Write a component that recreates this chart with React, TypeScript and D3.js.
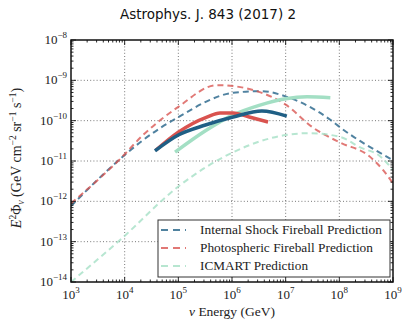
import React from "react";
import * as d3 from "d3";

// ---- data (energy in GeV, E^2 Phi in GeV cm^-2 sr^-1 s^-1) ----
const isDashedE = [1e3, 8.2e3, 2.2e4, 1e5, 1.05e6, 3.6e6, 1.05e7, 6.8e7, 1.07e8, 1e9];
const isDashedF = [7.6e-13, 1.12e-11, 3.3e-11, 1.23e-10, 4.9e-10, 5.4e-10, 3.9e-10, 1.05e-10, 6.6e-11, 1.05e-11];

const phDashedE = [1e3, 8.2e3, 2.2e4, 1e5, 5.2e5, 1.05e6, 3.3e6, 1e7, 3.2e7, 1.07e8, 3.4e8, 6.5e8, 1e9];
const phDashedF = [8.9e-13, 1.12e-11, 4.4e-11, 2.2e-10, 7.6e-10, 7.2e-10, 5.1e-10, 2.5e-10, 6.8e-11, 2.8e-11, 1.4e-11, 6e-12, 2.8e-12];

const icDashedE = [1e3, 8.2e3, 1.07e5, 1e6, 1e7, 2.8e7, 1.07e8, 2.4e8, 5.8e8, 1e9];
const icDashedF = [1e-14, 1.1e-13, 2.5e-12, 1.6e-11, 4.4e-11, 4.9e-11, 3.9e-11, 2.2e-11, 1.3e-11, 6e-12];

const isSolidE = [3.67e4, 1e5, 3.2e5, 1.05e6, 3.6e6, 1.05e7];
const isSolidF = [1.78e-11, 4.4e-11, 7.8e-11, 1.23e-10, 1.74e-10, 1.3e-10];

const phSolidE = [3.8e4, 1e5, 3.4e5, 6e5, 1.05e6, 2.1e6, 4.7e6];
const phSolidF = [1.85e-11, 5.2e-11, 1.23e-10, 1.55e-10, 1.55e-10, 1.23e-10, 9.3e-11];

const icSolidE = [8.7e4, 3.2e5, 1e6, 3.2e6, 1e7, 2.5e7, 6.8e7];
const icSolidF = [1.66e-11, 5.6e-11, 1.35e-10, 2.4e-10, 3.5e-10, 3.9e-10, 3.7e-10];

const xTickExps = [3, 4, 5, 6, 7, 8, 9];
const yTickExps = [-8, -9, -10, -11, -12, -13, -14];
const legendLabels = [
  "Internal Shock Fireball Prediction",
  "Photospheric Fireball Prediction",
  "ICMART Prediction",
];
const seriesColors = ["#1f5f85", "#d9534f", "#a3dfc4"];
const titleText = "Astrophys. J. 843 (2017) 2";

export default function App() {
  const W = 405, H = 320;
  const L = 71, R = 393, T = 40, B = 282;
  const x = d3.scaleLog().domain([1e3, 1e9]).range([L, R]);
  const y = d3.scaleLog().domain([1e-14, 1e-8]).range([B, T]);

  const line = d3
    .line<[number, number]>()
    .x((d) => x(d[0]))
    .y((d) => y(d[1]))
    .curve(d3.curveMonotoneX);
  const mk = (E: number[], F: number[]) => line(E.map((e, i) => [e, F[i]] as [number, number])) || "";

  const dashed = [
    { d: mk(isDashedE, isDashedF), c: seriesColors[0] },
    { d: mk(phDashedE, phDashedF), c: seriesColors[1] },
    { d: mk(icDashedE, icDashedF), c: seriesColors[2] },
  ];
  const solid = [
    { d: mk(icSolidE, icSolidF), c: seriesColors[2] },
    { d: mk(phSolidE, phSolidF), c: seriesColors[1] },
    { d: mk(isSolidE, isSolidF), c: seriesColors[0] },
  ];

  const serif = "'Liberation Serif', 'DejaVu Serif', serif";

  const xMinor: number[] = [];
  for (let e = 3; e < 9; e++) for (let m = 2; m <= 9; m++) xMinor.push(m * Math.pow(10, e));
  const yMinor: number[] = [];
  for (let e = -14; e < -8; e++) for (let m = 2; m <= 9; m++) yMinor.push(m * Math.pow(10, e));

  const majLen = 5, minLen = 2.5;
  const legendWidths = [182, 173, 108];

  return (
    <svg width={W} height={H} style={{ position: "absolute", left: 0, top: 0 }} xmlns="http://www.w3.org/2000/svg">
      <rect x={0} y={0} width={W} height={H} fill="white" />
      <defs>
        <clipPath id="plotclip">
          <rect x={L} y={T} width={R - L} height={B - T} />
        </clipPath>
      </defs>
      <text x={208} y={19} textAnchor="middle" fontFamily="'DejaVu Sans', sans-serif" fontSize={13.5} fill="#111">
        {titleText}
      </text>

      {/* grid */}
      <g stroke="#555" strokeWidth={0.8} strokeDasharray="1,2.2">
        {xTickExps.slice(1, -1).map((e) => (
          <line key={"gx" + e} x1={x(Math.pow(10, e))} x2={x(Math.pow(10, e))} y1={T} y2={B} />
        ))}
        {yTickExps.slice(1, -1).map((e) => (
          <line key={"gy" + e} y1={y(Math.pow(10, e))} y2={y(Math.pow(10, e))} x1={L} x2={R} />
        ))}
      </g>

      {/* curves */}
      <g clipPath="url(#plotclip)" fill="none">
        {dashed.map((s, i) => (
          <path key={"d" + i} d={s.d} stroke={s.c} strokeWidth={2} strokeDasharray="6,4" opacity={0.78} />
        ))}
        {solid.map((s, i) => (
          <path key={"s" + i} d={s.d} stroke={s.c} strokeWidth={3.5} strokeLinecap="butt" />
        ))}
      </g>

      {/* ticks */}
      <g stroke="#111" strokeWidth={0.9}>
        {xTickExps.map((e) => {
          const px = x(Math.pow(10, e));
          return (
            <g key={"xt" + e}>
              <line x1={px} x2={px} y1={B} y2={B - majLen} />
              <line x1={px} x2={px} y1={T} y2={T + majLen} />
            </g>
          );
        })}
        {xMinor.map((v, i) => {
          const px = x(v);
          return (
            <g key={"xm" + i}>
              <line x1={px} x2={px} y1={B} y2={B - minLen} />
              <line x1={px} x2={px} y1={T} y2={T + minLen} />
            </g>
          );
        })}
        {yTickExps.map((e) => {
          const py = y(Math.pow(10, e));
          return (
            <g key={"yt" + e}>
              <line y1={py} y2={py} x1={L} x2={L + majLen} />
              <line y1={py} y2={py} x1={R} x2={R - majLen} />
            </g>
          );
        })}
        {yMinor.map((v, i) => {
          const py = y(v);
          return (
            <g key={"ym" + i}>
              <line y1={py} y2={py} x1={L} x2={L + minLen} />
              <line y1={py} y2={py} x1={R} x2={R - minLen} />
            </g>
          );
        })}
      </g>

      {/* frame */}
      <rect x={L} y={T} width={R - L} height={B - T} fill="none" stroke="#111" strokeWidth={1.5} />

      {/* tick labels */}
      <g fontFamily={serif} fill="#222">
        {xTickExps.map((e) => (
          <text key={"xl" + e} x={x(Math.pow(10, e))} y={299} textAnchor="middle" fontSize={13}>
            <tspan>10</tspan>
            <tspan dy={-6} fontSize={9}>{e}</tspan>
          </text>
        ))}
        {yTickExps.map((e) => (
          <text key={"yl" + e} x={67} y={y(Math.pow(10, e)) + 4} textAnchor="end" fontSize={13}>
            <tspan>10</tspan>
            <tspan dy={-6} fontSize={9}>{"\u2212" + Math.abs(e)}</tspan>
          </text>
        ))}
      </g>

      {/* axis titles */}
      <text x={(L + R) / 2} y={316} textAnchor="middle" fontFamily={serif} fontSize={13.5} fill="#222">
        <tspan fontStyle="italic">ν</tspan>
        <tspan> Energy (GeV)</tspan>
      </text>
      <text
        transform={`translate(21, ${(T + B) / 2 - 3}) rotate(-90)`}
        textAnchor="middle"
        fontFamily={serif}
        fontSize={14}
        fill="#222"
      >
        <tspan fontStyle="italic">E</tspan>
        <tspan dy={-5} fontSize={9.5}>2</tspan>
        <tspan dy={5}>Φ</tspan>
        <tspan dy={3} fontSize={9.5} fontStyle="italic">ν</tspan>
        <tspan dy={-3}> (GeV cm</tspan>
        <tspan dy={-5} fontSize={9.5}>−2</tspan>
        <tspan dy={5}> sr</tspan>
        <tspan dy={-5} fontSize={9.5}>−1</tspan>
        <tspan dy={5}> s</tspan>
        <tspan dy={-5} fontSize={9.5}>−1</tspan>
        <tspan dy={5}>)</tspan>
      </text>

      {/* legend */}
      <rect x={158} y={220} width={232} height={57} fill="white" stroke="#333" strokeWidth={1} />
      {legendLabels.map((lab, i) => {
        const cy = 230 + i * 18;
        return (
          <g key={"lg" + i}>
            <line x1={161} x2={186} y1={cy} y2={cy} stroke={seriesColors[i]} strokeWidth={2} strokeDasharray="7,5" opacity={0.78} />
            <text
              x={200}
              y={cy + 4}
              fontFamily={serif}
              fontSize={13}
              fill="#222"
              textLength={legendWidths[i]}
              lengthAdjust="spacingAndGlyphs"
            >
              {lab}
            </text>
          </g>
        );
      })}
    </svg>
  );
}
